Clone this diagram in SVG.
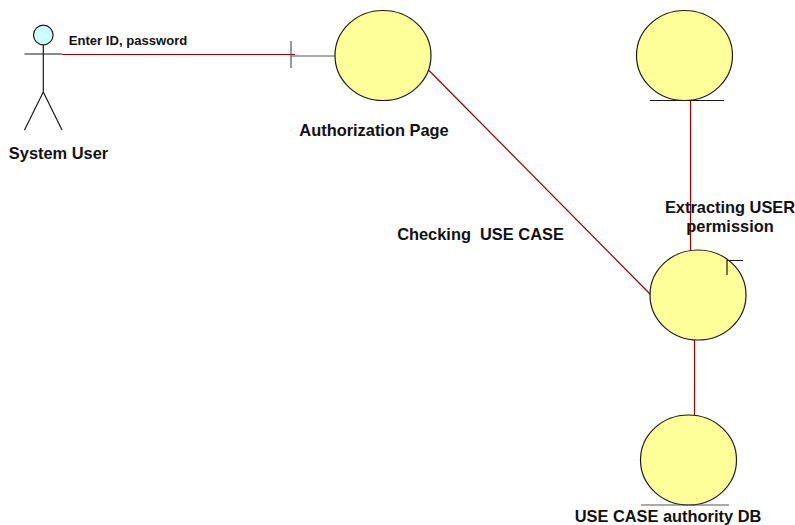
<svg xmlns="http://www.w3.org/2000/svg" width="795" height="525" viewBox="0 0 795 525">
<style>
.b{fill:#ffff99;stroke:#1a1a1a;stroke-width:1.2}
.k{stroke:#1a1a1a;stroke-width:1.2;fill:none}
.g{stroke:#555;stroke-width:1.2;fill:none}
.c{stroke:#990000;stroke-width:1.2;fill:none}
text{font-family:"Liberation Sans",Arial,sans-serif;font-weight:bold;fill:#111;text-anchor:middle}
.l{font-size:16.4px}
</style>
<rect width="795" height="525" fill="#fff"/>
<g id="connectors">
<line class="c" x1="62" y1="54.500" x2="295" y2="54.500"/>
<line class="c" x1="429" y1="70.500" x2="651" y2="295"/>
<line class="c" x1="690.500" y1="101" x2="690.500" y2="251"/>
<line class="c" x1="694.500" y1="340" x2="694.500" y2="415"/>
</g>
<g id="actor">
<circle cx="43.300" cy="35" r="9.800" fill="#ccffff" stroke="#1a1a1a" stroke-width="1.200"/>
<path class="k" d="M24.500 54H62M43.300 45V92M43.300 92L24.500 130M43.300 92L62 130"/>
<text class="l" x="58.500" y="159">System User</text>
</g>
<g id="authorization-page">
<path class="g" d="M291 56H335M291 41V68"/>
<ellipse class="b" cx="383" cy="55.500" rx="48" ry="45"/>
<text class="l" x="374" y="136">Authorization Page</text>
</g>
<g id="user-entity">
<ellipse class="b" cx="684.500" cy="55.500" rx="48" ry="45"/>
<line class="k" x1="650" y1="100.500" x2="724" y2="100.500"/>
</g>
<g id="extracting">
<ellipse class="b" cx="698" cy="295" rx="48" ry="45"/>
<path class="k" d="M727 275V260.500H743"/>
<text class="l" x="730" y="213">Extracting USER</text>
<text class="l" x="730" y="232">permission</text>
</g>
<g id="db">
<ellipse class="b" cx="688.500" cy="460" rx="48" ry="45"/>
<line class="g" x1="641" y1="505" x2="729" y2="505"/>
<text class="l" x="668" y="522">USE CASE authority DB</text>
</g>
<text x="128" y="45" font-size="13.100px">Enter ID, password</text>
<text class="l" x="480.500" y="240" style="white-space:pre">Checking  USE CASE</text>
</svg>
